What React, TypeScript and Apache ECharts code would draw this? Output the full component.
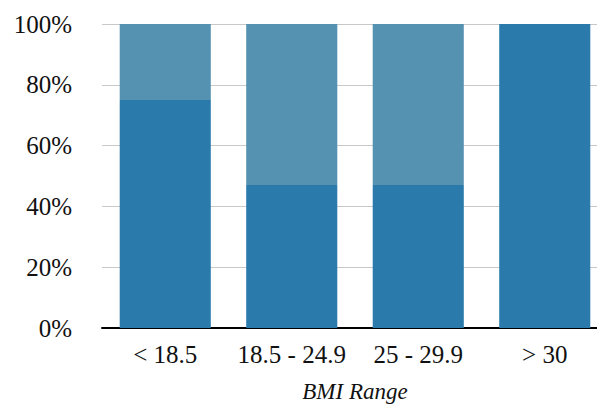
import React, { useEffect, useRef } from "react";
import * as echarts from "echarts";

const categories = ["< 18.5", "18.5 - 24.9", "25 - 29.9", "> 30"];
const lowerValues = [75, 47, 47, 100];
const upperValues = [25, 53, 53, 0];
const yTicks = [0, 20, 40, 60, 80, 100];

export default function App() {
  const ref = useRef<HTMLDivElement>(null);
  useEffect(() => {
    document.body.style.margin = "0";
    document.body.style.overflow = "hidden";
    document.documentElement.style.overflow = "hidden";
    const chart = echarts.init(ref.current!, null, { renderer: "svg" });
    const font = "Liberation Serif, DejaVu Serif, serif";
    chart.setOption({
      animation: false,
      textStyle: { fontFamily: font },
      grid: {
        left: 102,
        right: -11,
        top: 24,
        bottom: 77,
        containLabel: false,
        outerBoundsMode: "none",
      },
      xAxis: {
        type: "category",
        data: categories,
        axisTick: { show: false },
        axisLine: { lineStyle: { color: "#000", width: 2 } },
        axisLabel: { fontFamily: font, fontSize: 25, color: "#111", margin: 14, interval: 0 },
        name: "BMI Range",
        nameLocation: "middle",
        nameGap: 52,
        nameTextStyle: { fontFamily: font, fontSize: 23, fontStyle: "italic", color: "#111" },
      },
      yAxis: {
        type: "value",
        min: yTicks[0],
        max: yTicks[yTicks.length - 1],
        interval: 20,
        axisLine: { show: false },
        axisTick: { show: false },
        axisLabel: {
          formatter: "{value}%",
          fontFamily: font,
          fontSize: 25,
          color: "#111",
          margin: 30,
        },
        splitLine: { lineStyle: { color: "#c8c8c8", width: 1 } },
      },
      series: [
        {
          type: "bar",
          stack: "total",
          data: lowerValues,
          barCategoryGap: "28%",
          itemStyle: { color: "#2a7aab" },
        },
        {
          type: "bar",
          stack: "total",
          data: upperValues,
          barCategoryGap: "28%",
          itemStyle: { color: "#5592b1" },
        },
      ],
    });
    return () => chart.dispose();
  }, []);
  return (
    <div
      ref={ref}
      style={{ position: "absolute", left: 0, top: 0, width: 597, height: 405 }}
    />
  );
}
